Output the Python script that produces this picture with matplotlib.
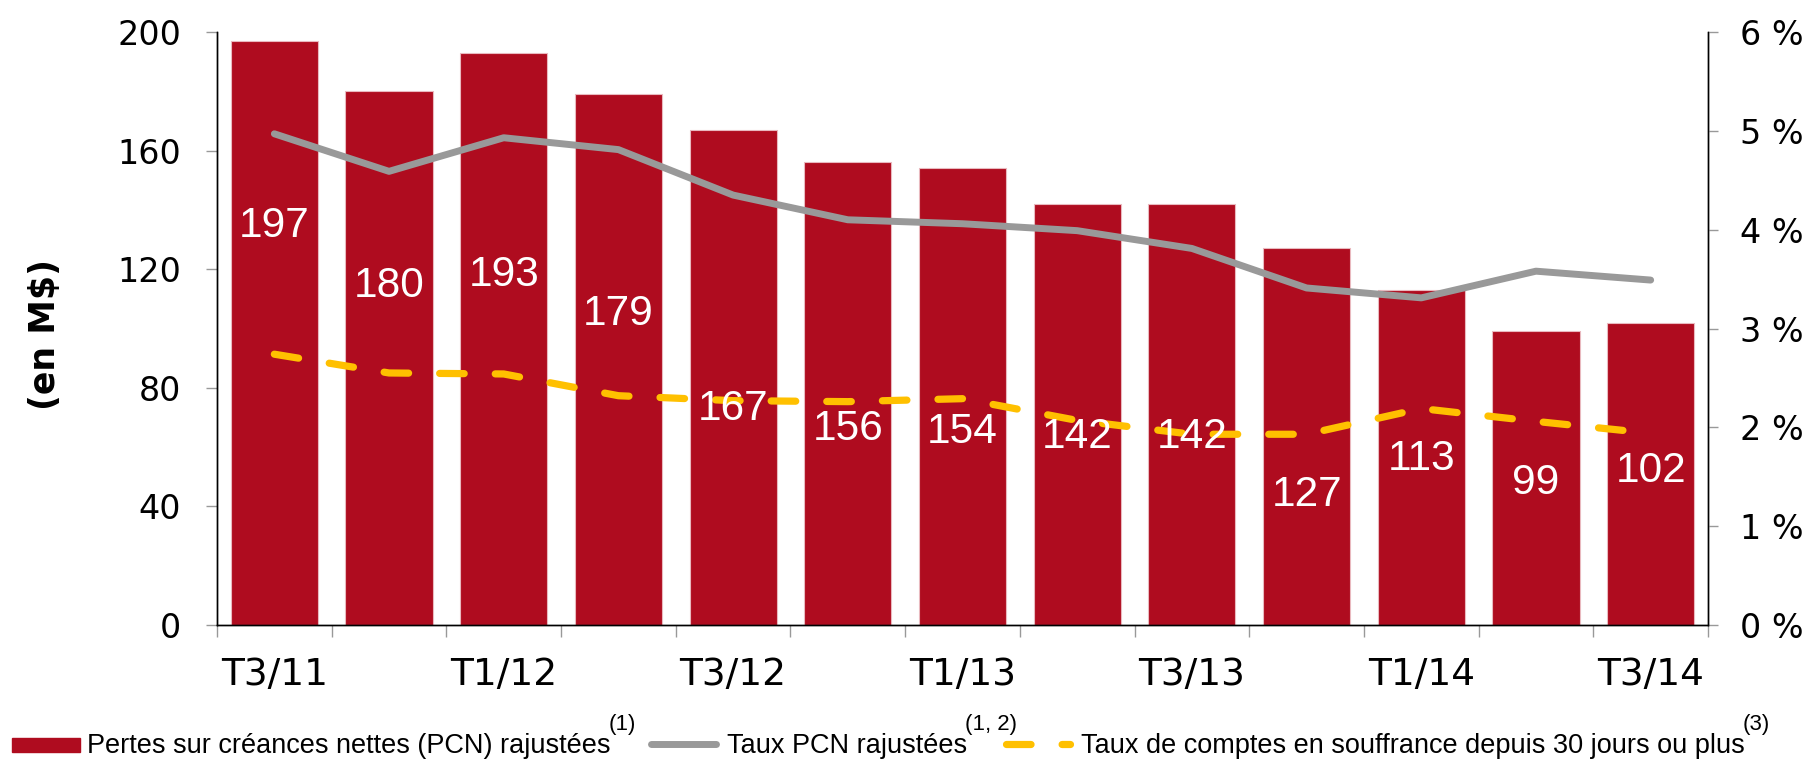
import numpy as np
import matplotlib.pyplot as plt
from matplotlib.patches import Rectangle
from matplotlib.lines import Line2D

# quarters, PCN (M$) and the two rates (%)
quarters = ['T3/11', 'T4/11', 'T1/12', 'T2/12', 'T3/12', 'T4/12', 'T1/13',
            'T2/13', 'T3/13', 'T4/13', 'T1/14', 'T2/14', 'T3/14']
pcn = [197, 180, 193, 179, 167, 156, 154, 142, 142, 127, 113, 99, 102]
pcn_rate = [4.97, 4.59, 4.93, 4.81, 4.35, 4.10, 4.06, 3.99, 3.81, 3.41, 3.31, 3.58, 3.49]
late_rate = [2.74, 2.55, 2.54, 2.32, 2.27, 2.26, 2.29, 2.07, 1.93, 1.93, 2.19, 2.06, 1.94]
# height (M$) where each bar value was placed in the original
label_y = [134.5, 114.5, 118, 105, 73, 66, 65, 63.5, 63.5, 44, 56, 48, 52]

legend_labels = ['Pertes sur créances nettes (PCN) rajustées',
                 'Taux PCN rajustées',
                 'Taux de comptes en souffrance depuis 30 jours ou plus']
legend_notes = ['(1)', '(1, 2)', '(3)']

RED = '#AF0C1F'
GREY = '#999999'
GOLD = '#FFC000'
W, H = 1818, 759

fig = plt.figure(figsize=(W / 100, H / 100), dpi=100, facecolor='w')
ax = fig.add_axes([217 / W, 134 / H, (1708 - 217) / W, (626 - 33) / H])
ax2 = ax.twinx()

x = np.arange(len(quarters))
ax.bar(x, pcn, width=0.76, color=RED, edgecolor='#e9b9bf', linewidth=0.8)
ax.set_xlim(-0.5, len(quarters) - 0.5)
ax.set_ylim(0, 200)
ax.set_yticks(np.arange(0, 201, 40))

ax2.plot(x, pcn_rate, color=GREY, lw=5, solid_capstyle='round', solid_joinstyle='round')
ax2.plot(x, late_rate, color=GOLD, lw=5.2, linestyle=(0, (3.4, 4.3)),
         dash_capstyle='round')
ax2.set_ylim(0, 6)
ax2.set_yticks(range(7))
ax2.set_yticklabels([f'{v} %' for v in range(7)])

for xi, v, ly in zip(x, pcn, label_y):
    ax2.text(xi, ly, str(v), transform=ax.transData, ha='center', va='center',
             color='w', fontsize=30.5, family=['Liberation Sans', 'DejaVu Sans'])

# ticks between categories, labels on every other quarter
ax.set_xticks(np.arange(-0.5, len(quarters), 1))
ax.set_xticklabels([])
ax.set_xticks(x[::2], minor=True)
ax.set_xticklabels(quarters[::2], minor=True, fontsize=27)
ax.tick_params(axis='x', which='major', length=8.6, width=1, color=GREY, direction='out')
ax.tick_params(axis='x', which='minor', length=0, pad=23)
ax.tick_params(axis='y', labelsize=24, length=8, width=1, color=GREY, pad=18)
ax2.tick_params(axis='y', labelsize=24, length=7, width=1, color=GREY, pad=16)

for a in (ax, ax2):
    a.spines['top'].set_visible(False)
    for s in ('left', 'right', 'bottom'):
        a.spines[s].set_linewidth(1)
        a.spines[s].set_color('k')

ax.set_ylabel('(en M$)', fontsize=25, fontweight='bold')
ax.yaxis.set_label_coords(-0.104, 0.49)

# hand-built legend along the bottom edge
fig.canvas.draw()
r = fig.canvas.get_renderer()
handle_x = [12, 647, 1002]
handle_len = [68, 73, 72]
for i, (lab, note) in enumerate(zip(legend_labels, legend_notes)):
    hx, hl = handle_x[i], handle_len[i]
    if i == 0:
        fig.add_artist(Rectangle((hx / W, 7 / H), hl / W, 14 / H,
                                 transform=fig.transFigure, color=RED))
    else:
        style = dict(color=GREY, lw=5, solid_capstyle='round') if i == 1 else \
            dict(color=GOLD, lw=5.2, linestyle=(0, (3.4, 4.3)), dash_capstyle='round')
        fig.add_artist(Line2D([(hx + 4) / W, (hx + hl - 4) / W], [15 / H, 15 / H],
                              transform=fig.transFigure, **style))
    t = fig.text((hx + hl + 7) / W, 6 / H, lab, fontsize=19.5, va='baseline',
                 family=['Liberation Sans', 'DejaVu Sans'])
    x1 = t.get_window_extent(r).x1
    fig.text((x1 - 2) / W, 29 / H, note, fontsize=16, va='baseline',
             family=['Liberation Sans', 'DejaVu Sans'])

fig.savefig('out.png', dpi=100, facecolor='w')
